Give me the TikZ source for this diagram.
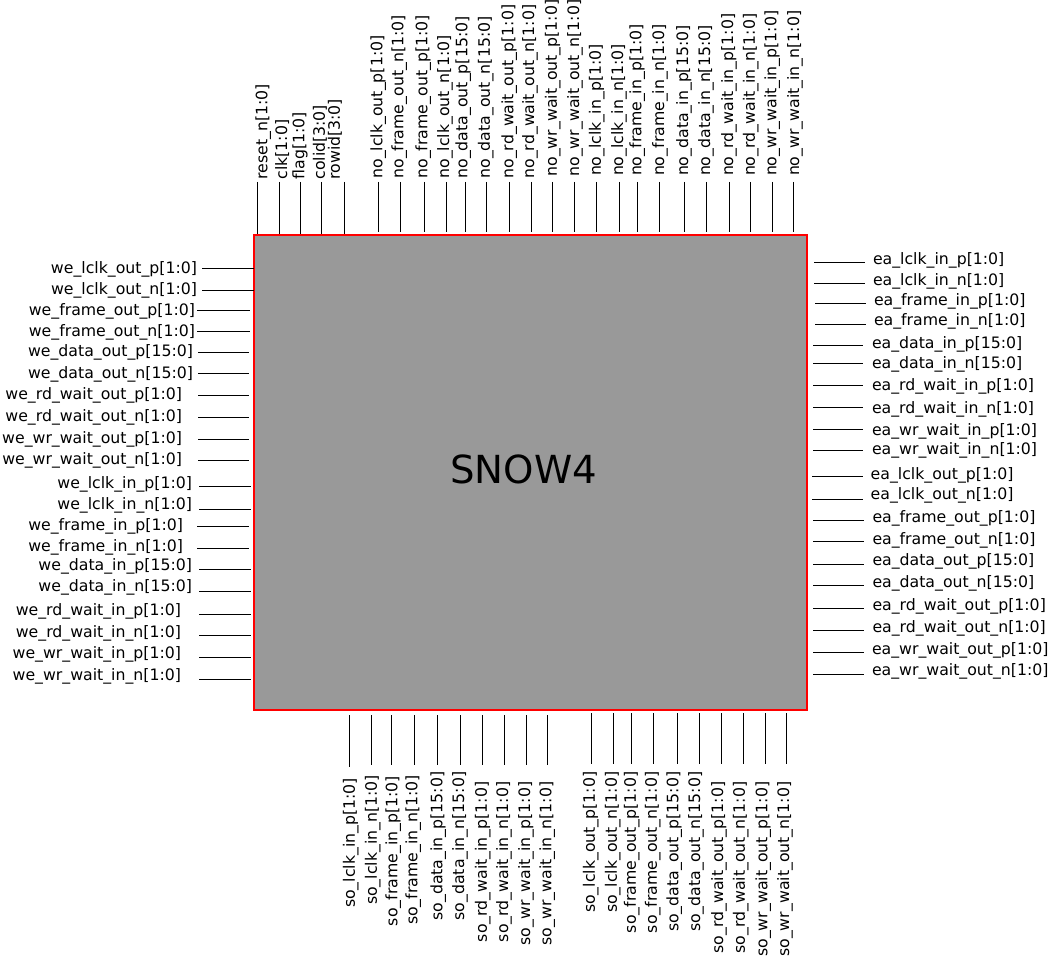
\documentclass[tikz,border=0pt]{standalone}
\usepackage{fontspec}
\setmainfont{DejaVu Sans}
\definecolor{chipfill}{RGB}{153,153,153}
\begin{document}
\begin{tikzpicture}[x=0.75pt,y=-0.75pt,
  pinline/.style={draw=black, line width=0.75pt},
  pinlabel/.style={inner sep=0pt, outer sep=0pt, font=\fontsize{11.8}{14}\selectfont, text=black},
  chipbox/.style={draw=red, line width=1.5pt, fill=chipfill, inner sep=0pt, outer sep=0pt, minimum width=414.75pt, minimum height=356.25pt},
  chiptitle/.style={inner sep=0pt, font=\fontsize{29}{34}\selectfont, text=black}]
\useasboundingbox (0,0) rectangle (1050,959);
\node[chipbox] (chip) at (530.5,472.5) {};
\node[chiptitle] (title) at (523.7,469) {SNOW4};
% left side
\foreach \i/\txt/\tx/\ty/\xa/\xb/\ly in {
 1/we\_lclk\_out\_p[1:0]/197/269/202/254/269,
 2/we\_lclk\_out\_n[1:0]/197/290/202/254/290.3,
 3/we\_frame\_out\_p[1:0]/195/311/197/250/311,
 4/we\_frame\_out\_n[1:0]/195/332/197/250/332,
 5/we\_data\_out\_p[15:0]/193/352.3/198/249/352.7,
 6/we\_data\_out\_n[15:0]/193/374/198/249/374,
 7/we\_rd\_wait\_out\_p[1:0]/182/395.7/198/249/395.7,
 8/we\_rd\_wait\_out\_n[1:0]/182/417.3/198/249/417.3,
 9/we\_wr\_wait\_out\_p[1:0]/182/439/198/249/439,
 10/we\_wr\_wait\_out\_n[1:0]/182/460.7/198/249/460.7,
 11/we\_lclk\_in\_p[1:0]/192/484/199/251/486.7,
 12/we\_lclk\_in\_n[1:0]/192/505/199/251/509,
 13/we\_frame\_in\_p[1:0]/183/526/197/249/526,
 14/we\_frame\_in\_n[1:0]/183/547/197/249/548,
 15/we\_data\_in\_p[15:0]/192/566/199/251/569.3,
 16/we\_data\_in\_n[15:0]/192/587/199/251/591.7,
 17/we\_rd\_wait\_in\_p[1:0]/181/611/199/251/614.3,
 18/we\_rd\_wait\_in\_n[1:0]/181/633/199/251/635.7,
 19/we\_wr\_wait\_in\_p[1:0]/181/654/199/251/657.7,
 20/we\_wr\_wait\_in\_n[1:0]/181/676/199/251/679.3}{
  \coordinate (L\i-a) at (\xa,\ly);
  \coordinate (L\i-b) at (\xb,\ly);
  \draw[pinline] (L\i-a) -- (L\i-b);
  \node[pinlabel, anchor=east] (L\i-t) at (\tx,\ty) {\txt};
}
% right side
\foreach \i/\txt/\tx/\ty/\xa/\xb/\ly in {
 1/ea\_lclk\_in\_p[1:0]/873/260/814/865/262.7,
 2/ea\_lclk\_in\_n[1:0]/873/281.7/814/865/283.3,
 3/ea\_frame\_in\_p[1:0]/874/301.7/815/866/303.3,
 4/ea\_frame\_in\_n[1:0]/874/321.7/815/866/325,
 5/ea\_data\_in\_p[15:0]/872/344.3/813/863/346,
 6/ea\_data\_in\_n[15:0]/872/364.3/813/863/363.3,
 7/ea\_rd\_wait\_in\_p[1:0]/872/386.7/813/863/385.7,
 8/ea\_rd\_wait\_in\_n[1:0]/872/409.3/813/863/407.3,
 9/ea\_wr\_wait\_in\_p[1:0]/872/431/813/863/429.3,
 10/ea\_wr\_wait\_in\_n[1:0]/872/450.7/813/863/450,
 11/ea\_lclk\_out\_p[1:0]/870.7/475/812/863/476.7,
 12/ea\_lclk\_out\_n[1:0]/870.7/495.7/812/863/499,
 13/ea\_frame\_out\_p[1:0]/872.5/518.3/813/864/520.7,
 14/ea\_frame\_out\_n[1:0]/872.5/540/813/864/541.7,
 15/ea\_data\_out\_p[15:0]/872.5/561.7/813/864/564.3,
 16/ea\_data\_out\_n[15:0]/872.5/583.3/813/864/585.7,
 17/ea\_rd\_wait\_out\_p[1:0]/872.5/606.7/813/864/608.3,
 18/ea\_rd\_wait\_out\_n[1:0]/872.5/628.3/813/864/630.7,
 19/ea\_wr\_wait\_out\_p[1:0]/872/650/813/864/652.3,
 20/ea\_wr\_wait\_out\_n[1:0]/872/671.7/813/864/674.3}{
  \coordinate (R\i-a) at (\xa,\ly);
  \coordinate (R\i-b) at (\xb,\ly);
  \draw[pinline] (R\i-a) -- (R\i-b);
  \node[pinlabel, anchor=west] (R\i-t) at (\tx,\ty) {\txt};
}
% top side
\foreach \i/\txt/\tx/\ty/\lx/\ya/\yb in {
 1/reset\_n[1:0]/263.3/179.5/257.3/182/234,
 2/clk[1:0]/282.3/179.5/279/182/234,
 3/flag[1:0]/300/179.5/300.3/182/234,
 4/colid[3:0]/320/179.5/321.7/182/234,
 5/rowid[3:0]/335/179.5/344.3/182/234,
 6/no\_lclk\_out\_p[1:0]/378.3/178.5/378.3/182/232.5,
 7/no\_frame\_out\_n[1:0]/399.3/178.5/400/182/232.5,
 8/no\_frame\_out\_p[1:0]/423.3/178.5/424/182/232.5,
 9/no\_lclk\_out\_n[1:0]/445/178.5/446/182/232.5,
 10/no\_data\_out\_p[15:0]/463.3/178.5/465/182/232.5,
 11/no\_data\_out\_n[15:0]/485.7/178.5/486.7/182/232.5,
 12/no\_rd\_wait\_out\_p[1:0]/509.3/178.5/509.3/182/232.5,
 13/no\_rd\_wait\_out\_n[1:0]/530/178.5/531/182/232.5,
 14/no\_wr\_wait\_out\_p[1:0]/552.7/176.5/552.7/182/232.5,
 15/no\_wr\_wait\_out\_n[1:0]/575/176.5/574.3/182/232.5,
 16/no\_lclk\_in\_p[1:0]/596.7/176/596.7/182/232.5,
 17/no\_lclk\_in\_n[1:0]/619/176/619/182/232.5,
 18/no\_frame\_in\_p[1:0]/637.3/176/637.3/182/232.5,
 19/no\_frame\_in\_n[1:0]/660/176/659/182/232.5,
 20/no\_data\_in\_p[15:0]/684/176/684/182/232.5,
 21/no\_data\_in\_n[15:0]/706/176/706/182/232.5,
 22/no\_rd\_wait\_in\_p[1:0]/729/176/729/182/232.5,
 23/no\_rd\_wait\_in\_n[1:0]/750.7/176/750.7/182/232.5,
 24/no\_wr\_wait\_in\_p[1:0]/772.3/176/772.3/182/232.5,
 25/no\_wr\_wait\_in\_n[1:0]/795/176/793.3/182/232.5}{
  \coordinate (T\i-a) at (\lx,\ya);
  \coordinate (T\i-b) at (\lx,\yb);
  \draw[pinline] (T\i-a) -- (T\i-b);
  \node[pinlabel, rotate=90, anchor=west] (T\i-t) at (\tx,\ty) {\txt};
}
% bottom side
\foreach \i/\txt/\tx/\ty/\lx/\ya/\yb in {
 1/so\_lclk\_in\_p[1:0]/350.7/778/349.3/715/766.5,
 2/so\_lclk\_in\_n[1:0]/372.7/775/371.7/715/765,
 3/so\_frame\_in\_p[1:0]/393.3/776/391.7/715/765,
 4/so\_frame\_in\_n[1:0]/413.3/775/414/715/765,
 5/so\_data\_in\_p[15:0]/438.3/771.7/437.7/715/765,
 6/so\_data\_in\_n[15:0]/460/771.7/460/715/765,
 7/so\_rd\_wait\_in\_p[1:0]/482.7/781.7/482.7/715/765,
 8/so\_rd\_wait\_in\_n[1:0]/504/781.7/504/715/765,
 9/so\_wr\_wait\_in\_p[1:0]/526/781.7/526/715/765,
 10/so\_wr\_wait\_in\_n[1:0]/547.3/781.7/547.3/715/765,
 11/so\_lclk\_out\_p[1:0]/590.7/771.7/591.7/713.3/764.3,
 12/so\_lclk\_out\_n[1:0]/612.7/771.7/613.3/713.3/764.3,
 13/so\_frame\_out\_p[1:0]/631.7/771.7/631/713.3/764.3,
 14/so\_frame\_out\_n[1:0]/652.7/771.7/653.3/713.3/764.3,
 15/so\_data\_out\_p[15:0]/674.3/771.7/677.3/713.3/764.3,
 16/so\_data\_out\_n[15:0]/696/771.7/699/713.3/764.3,
 17/so\_rd\_wait\_out\_p[1:0]/719/781.7/721.7/713.3/764.3,
 18/so\_rd\_wait\_out\_n[1:0]/740.7/781.7/743.3/713.3/764.3,
 19/so\_wr\_wait\_out\_p[1:0]/763.3/781.7/765/713.3/764.3,
 20/so\_wr\_wait\_out\_n[1:0]/785/781.7/786/713.3/764.3}{
  \coordinate (B\i-a) at (\lx,\ya);
  \coordinate (B\i-b) at (\lx,\yb);
  \draw[pinline] (B\i-a) -- (B\i-b);
  \node[pinlabel, rotate=90, anchor=east] (B\i-t) at (\tx,\ty) {\txt};
}
\end{tikzpicture}
\end{document}
